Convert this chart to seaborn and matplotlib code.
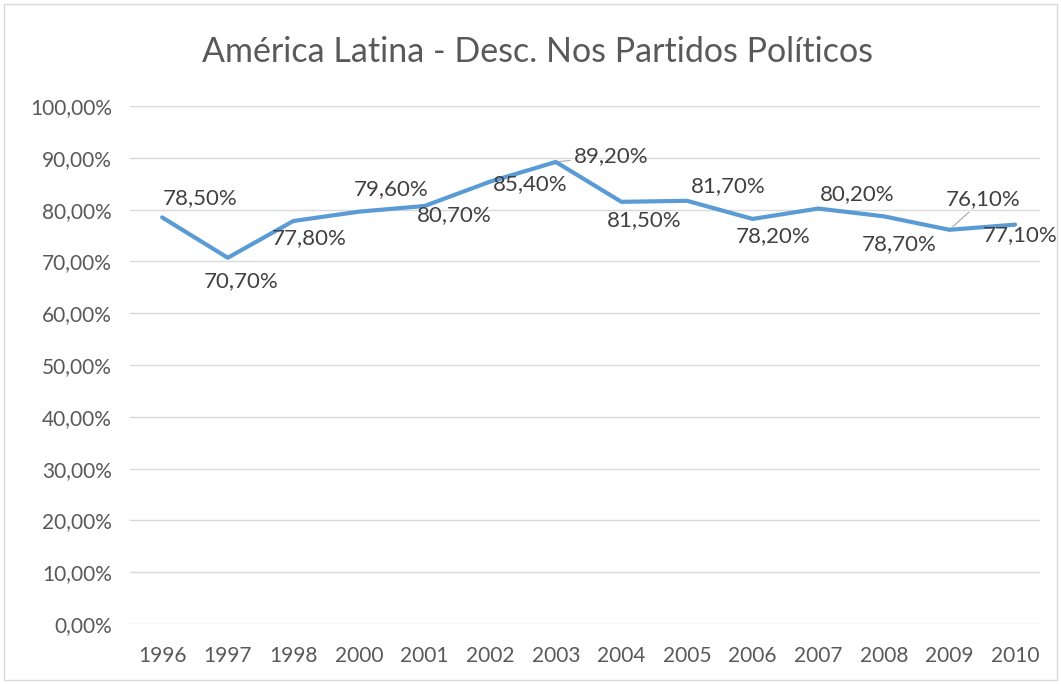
import pandas as pd
import seaborn as sns
import matplotlib.pyplot as plt
from matplotlib.patches import Rectangle

# dados
anos = ['1996', '1997', '1998', '2000', '2001', '2002', '2003',
        '2004', '2005', '2006', '2007', '2008', '2009', '2010']
valores = [0.785, 0.707, 0.778, 0.796, 0.807, 0.854, 0.892,
           0.815, 0.817, 0.782, 0.802, 0.787, 0.761, 0.771]
rotulos = ['78,50%', '70,70%', '77,80%', '79,60%', '80,70%', '85,40%', '89,20%',
           '81,50%', '81,70%', '78,20%', '80,20%', '78,70%', '76,10%', '77,10%']
ticks_y = [i / 10 for i in range(11)]
ticks_y_txt = ['0,00%', '10,00%', '20,00%', '30,00%', '40,00%', '50,00%',
               '60,00%', '70,00%', '80,00%', '90,00%', '100,00%']

df = pd.DataFrame({'ano': anos, 'valor': valores})

sns.set_style('white')
plt.rcParams['font.family'] = ['Lato', 'DejaVu Sans']

fig = plt.figure(figsize=(10.61, 6.84), dpi=100)
ax = fig.add_axes([130 / 1061, 60 / 684, 910 / 1061, 518 / 684])

sns.lineplot(data=df, x='ano', y='valor', ax=ax, sort=False,
             color='#5B9BD5', linewidth=3)

# posicao dos rotulos (offset em pixels)
offs = [(38, 19), (13, -23), (16, -17), (32, 23), (30, -9), (40, -2), (55, 6),
        (23, -18), (41, 15), (20, -17), (39, 14), (15, -28), (34, 31), (5, -10)]
for i, (lab, off) in enumerate(zip(rotulos, offs)):
    kw = {}
    if i in (6, 12):
        kw['arrowprops'] = dict(arrowstyle='-', color='#A6A6A6', lw=0.8,
                                shrinkA=0, shrinkB=2)
    ax.annotate(lab, (i, valores[i]), xytext=off, textcoords='offset pixels',
                ha='center', va='center', fontsize=16, color='#404040', **kw)

ax.set_ylim(0, 1)
ax.set_xlim(-0.49, 13.38)
ax.set_yticks(ticks_y)
ax.set_yticklabels(ticks_y_txt)
ax.yaxis.grid(True, color='#D9D9D9', linewidth=1)
ax.set_axisbelow(True)
for s in ax.spines.values():
    s.set_visible(False)
ax.tick_params(axis='both', length=0, labelsize=15, labelcolor='#595959')
ax.tick_params(axis='y', pad=13)
ax.tick_params(axis='x', pad=16)
ax.set_xlabel('')
ax.set_ylabel('')

fig.text(538 / 1061, 1 - 52 / 684, 'América Latina - Desc. Nos Partidos Políticos',
         ha='center', va='center', fontsize=24.5, color='#595959')

fig.patches.append(Rectangle((4 / 1061, 4 / 684), 1053 / 1061, 676 / 684,
                             transform=fig.transFigure, fill=False,
                             edgecolor='#D9D9D9', linewidth=1))

fig.savefig('out.png', dpi=100)
